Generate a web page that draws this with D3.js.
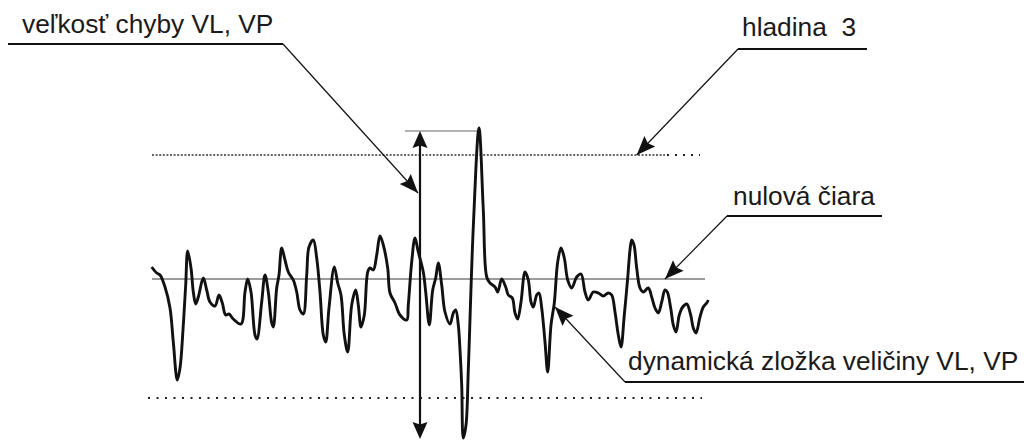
<!DOCTYPE html>
<html>
<head>
<meta charset="utf-8">
<script src="https://cdn.jsdelivr.net/npm/d3@7"></script>
<style>
  body { margin: 0; background: #fff; }
  svg { display: block; }
  text { font-family: "Liberation Sans", Arial, sans-serif; font-size: 26.3px; fill: #1a1a1a; white-space: pre; }
</style>
</head>
<body>
<div id="chart"></div>
<script>
// signal samples (t = sample position, v = amplitude, 0 = nulová čiara)
const tValues = [1.7, 6.7, 10, 15, 20, 23.3, 27.3, 30, 33.3, 35.7, 37.7, 41, 43.3, 45.7, 48.3, 53.3, 56.7, 60, 65, 69,
  72.3, 75.7, 79, 83.3, 91, 95, 97.7, 101, 105, 107, 111.7, 115, 118.3, 121.7, 123.3, 126.7, 129, 131.7, 135, 138.3,
  143.3, 146.7, 150, 153.3, 156.7, 159, 163.3, 166.7, 170, 173.3, 175.7, 179, 184.3, 187.7, 191, 194.3, 197.7, 201.7,
  205.7, 208.3, 211, 214.3, 217.7, 220, 223.3, 226.7, 230, 233.3, 237.7, 240, 245, 250, 256.7, 258.3, 261.7, 265,
  268.3, 273.3, 275.7, 279.3, 282.7, 285.7, 288.3, 291.7, 295, 300, 303.3, 305.7, 308.3, 310, 311.7, 313.3, 316, 318.3,
  323.3, 329, 333.3, 336.7, 340, 345, 347.7, 351.7, 355.7, 358.3, 362.3, 365, 367.7, 371, 375, 378.3, 381, 383.3,
  386.7, 389, 391.7, 395, 397.7, 401, 404.3, 407.7, 411, 414.3, 417.7, 421.7, 426.7, 431, 435, 438.3, 443.3, 448.3,
  453.3, 458.3, 461.7, 465, 468.3, 471, 474.3, 477.7, 480, 481.7, 484, 486.7, 490, 493.3, 498.3, 501.7, 505, 508.3,
  511.7, 515, 517.3, 520.7, 523.3, 526, 529.3, 532.7, 536.7, 540.7, 543.3, 546, 550, 553.3, 556.7, 558.3];
const vValues = [1.2, 0.6, 0.4, -0.8, -2.9, -6.3, -10.1, -8.9, -4.6, -0.6, 2.8, 1.1, -1.3, -2.5, -1.8, 0.1, -1.1, -2.3, -2.7, -1.6,
  -2.4, -3.6, -3.5, -4.0, -4.5, -1.3, 0.0, -1.3, -5.6, -6.0, -2.3, 0.4, -1.3, -4.4, -4.8, -0.9, 0.4, 3.1, 1.9, 0.7,
  -0.1, -1.3, -3.1, -3.5, 0.4, 3.2, 3.9, 2.1, -1.3, -5.6, -6.3, -2.9, 1.2, -0.4, -1.6, -5.6, -7.3, -2.6,
  -1.1, -2.6, -4.8, -3.6, 0.7, 1.1, 0.9, 2.4, 4.3, 3.4, 1.1, -1.4, -2.4, -3.6, -4.1, -2.6, 1.7, 4.1,
  2.7, 0.7, -1.3, -4.6, -1.1, 0.1, 1.6, -0.6, -3.3, -4.5, -3.4, -3.1, -4.6, -7.1, -10.6, -15.9, -14.6, -9.1,
  5.2, 15.1, 6.9, 0.2, -0.4, -0.8, -1.3, 0.0, -0.8, -1.6, -1.9, -3.4, -4.0, -2.3, 0.7, -0.1, -2.3, -2.8,
  -1.6, -1.4, -2.9, -6.3, -9.3, -4.6, -2.4, 1.7, 3.1, 2.1, -0.1, -0.9, 0.2, 0.5, -1.3, -2.1, -1.3, -1.4,
  -1.7, -1.4, -1.6, -3.3, -5.6, -6.8, -3.6, 0.1, 2.9, 3.9, 3.4, 1.1, -0.9, -1.3, -0.9, -1.8, -2.9, -3.4,
  -2.3, -1.1, -1.3, -2.9, -4.6, -5.3, -3.6, -2.8, -2.5, -3.6, -4.9, -5.4, -3.8, -2.8, -2.4, -2.1];

// reference levels
const zeroLevel = 0;
const level3 = 12.4;
const lowerLevel = -11.9;
const errorTop = 14.8;
const errorBottom = -15.9;
const errorAt = 270;

const labels = {
  error: "veľkosť chyby VL, VP",
  level: "hladina  3",
  zero: "nulová čiara",
  signal: "dynamická zložka veličiny VL, VP"
};

const width = 1026, height = 443;

const svg = d3.select('#chart').append('svg')
  .attr('width', width)
  .attr('height', height);

const x = d3.scaleLinear().domain([0, 560]).range([150, 710]);
const y = d3.scaleLinear().domain([-16, 16]).range([439, 119]);

// filled arrowhead with its tip at (x2,y2), pointing away from (x1,y1)
function arrowHead(x1, y1, x2, y2, len, w) {
  const a = Math.atan2(y2 - y1, x2 - x1);
  const ux = Math.cos(a), uy = Math.sin(a);
  const bx = x2 - ux * len, by = y2 - uy * len;
  const nx = -uy * w / 2, ny = ux * w / 2;
  const notch = len * 0.85;
  const p = [
    [x2, y2],
    [bx + nx, by + ny],
    [x2 - ux * notch, y2 - uy * notch],
    [bx - nx, by - ny]
  ];
  svg.append('path')
    .attr('d', 'M' + p.map(q => q.join(',')).join('L') + 'Z')
    .attr('fill', '#111');
}

// level lines
svg.append('line')
  .attr('x1', x(2)).attr('x2', x(515))
  .attr('y1', y(level3)).attr('y2', y(level3))
  .attr('stroke', '#333').attr('stroke-width', 1.5)
  .attr('stroke-dasharray', '2,1.6');
svg.append('line')
  .attr('x1', x(517)).attr('x2', x(550))
  .attr('y1', y(level3)).attr('y2', y(level3))
  .attr('stroke', '#222').attr('stroke-width', 2)
  .attr('stroke-dasharray', '2,6');
svg.append('line')
  .attr('x1', x(-2)).attr('x2', x(552))
  .attr('y1', y(lowerLevel)).attr('y2', y(lowerLevel))
  .attr('stroke', '#222').attr('stroke-width', 2)
  .attr('stroke-dasharray', '2,6.5');

// zero line
svg.append('line')
  .attr('x1', x(2)).attr('x2', x(555))
  .attr('y1', y(zeroLevel)).attr('y2', y(zeroLevel))
  .attr('stroke', '#7a7a7a').attr('stroke-width', 1.5);

// peak marker line
svg.append('line')
  .attr('x1', x(255)).attr('x2', x(329))
  .attr('y1', y(errorTop)).attr('y2', y(errorTop))
  .attr('stroke', '#666').attr('stroke-width', 1);

// signal
const data = tValues.map((t, i) => ({ t: t, v: vValues[i] }));
const line = d3.line()
  .x(d => x(d.t))
  .y(d => y(d.v))
  .curve(d3.curveCatmullRom.alpha(0.5));
svg.append('path')
  .datum(data)
  .attr('d', line)
  .attr('fill', 'none')
  .attr('stroke', '#111')
  .attr('stroke-width', 2.9)
  .attr('stroke-linejoin', 'round');

// error double arrow
const ex = x(errorAt), eTop = y(errorTop), eBot = y(errorBottom) + 1;
svg.append('line')
  .attr('x1', ex).attr('x2', ex)
  .attr('y1', eTop + 8).attr('y2', eBot - 8)
  .attr('stroke', '#111').attr('stroke-width', 2.2);
arrowHead(ex, eBot, ex, eTop, 17, 15);
arrowHead(ex, eTop, ex, eBot, 17, 15);

// callouts
function callout(text, tx, ty, ux1, ux2, uy, tip) {
  svg.append('text').attr('x', tx).attr('y', ty).attr('xml:space', 'preserve').text(text);
  svg.append('line')
    .attr('x1', ux1).attr('x2', ux2).attr('y1', uy).attr('y2', uy)
    .attr('stroke', '#111').attr('stroke-width', 2);
  const sx = tip.side === 'right' ? ux2 : ux1;
  svg.append('line')
    .attr('x1', sx).attr('y1', uy)
    .attr('x2', tip.x).attr('y2', tip.y)
    .attr('stroke', '#111').attr('stroke-width', 1.2);
  arrowHead(sx, uy, tip.x, tip.y, 19, 15);
}

callout(labels.error, 22, 33, 8, 283, 44, { x: x(268), y: y(8.6), side: 'right' });
callout(labels.level, 742, 36, 738, 867, 49, { x: x(486.7), y: y(level3), side: 'left' });
callout(labels.zero, 733, 205, 727, 882, 216, { x: x(515), y: y(zeroLevel), side: 'left' });
callout(labels.signal, 628, 370, 625, 1024, 382, { x: x(405), y: y(-2.8), side: 'left' });
</script>
</body>
</html>
